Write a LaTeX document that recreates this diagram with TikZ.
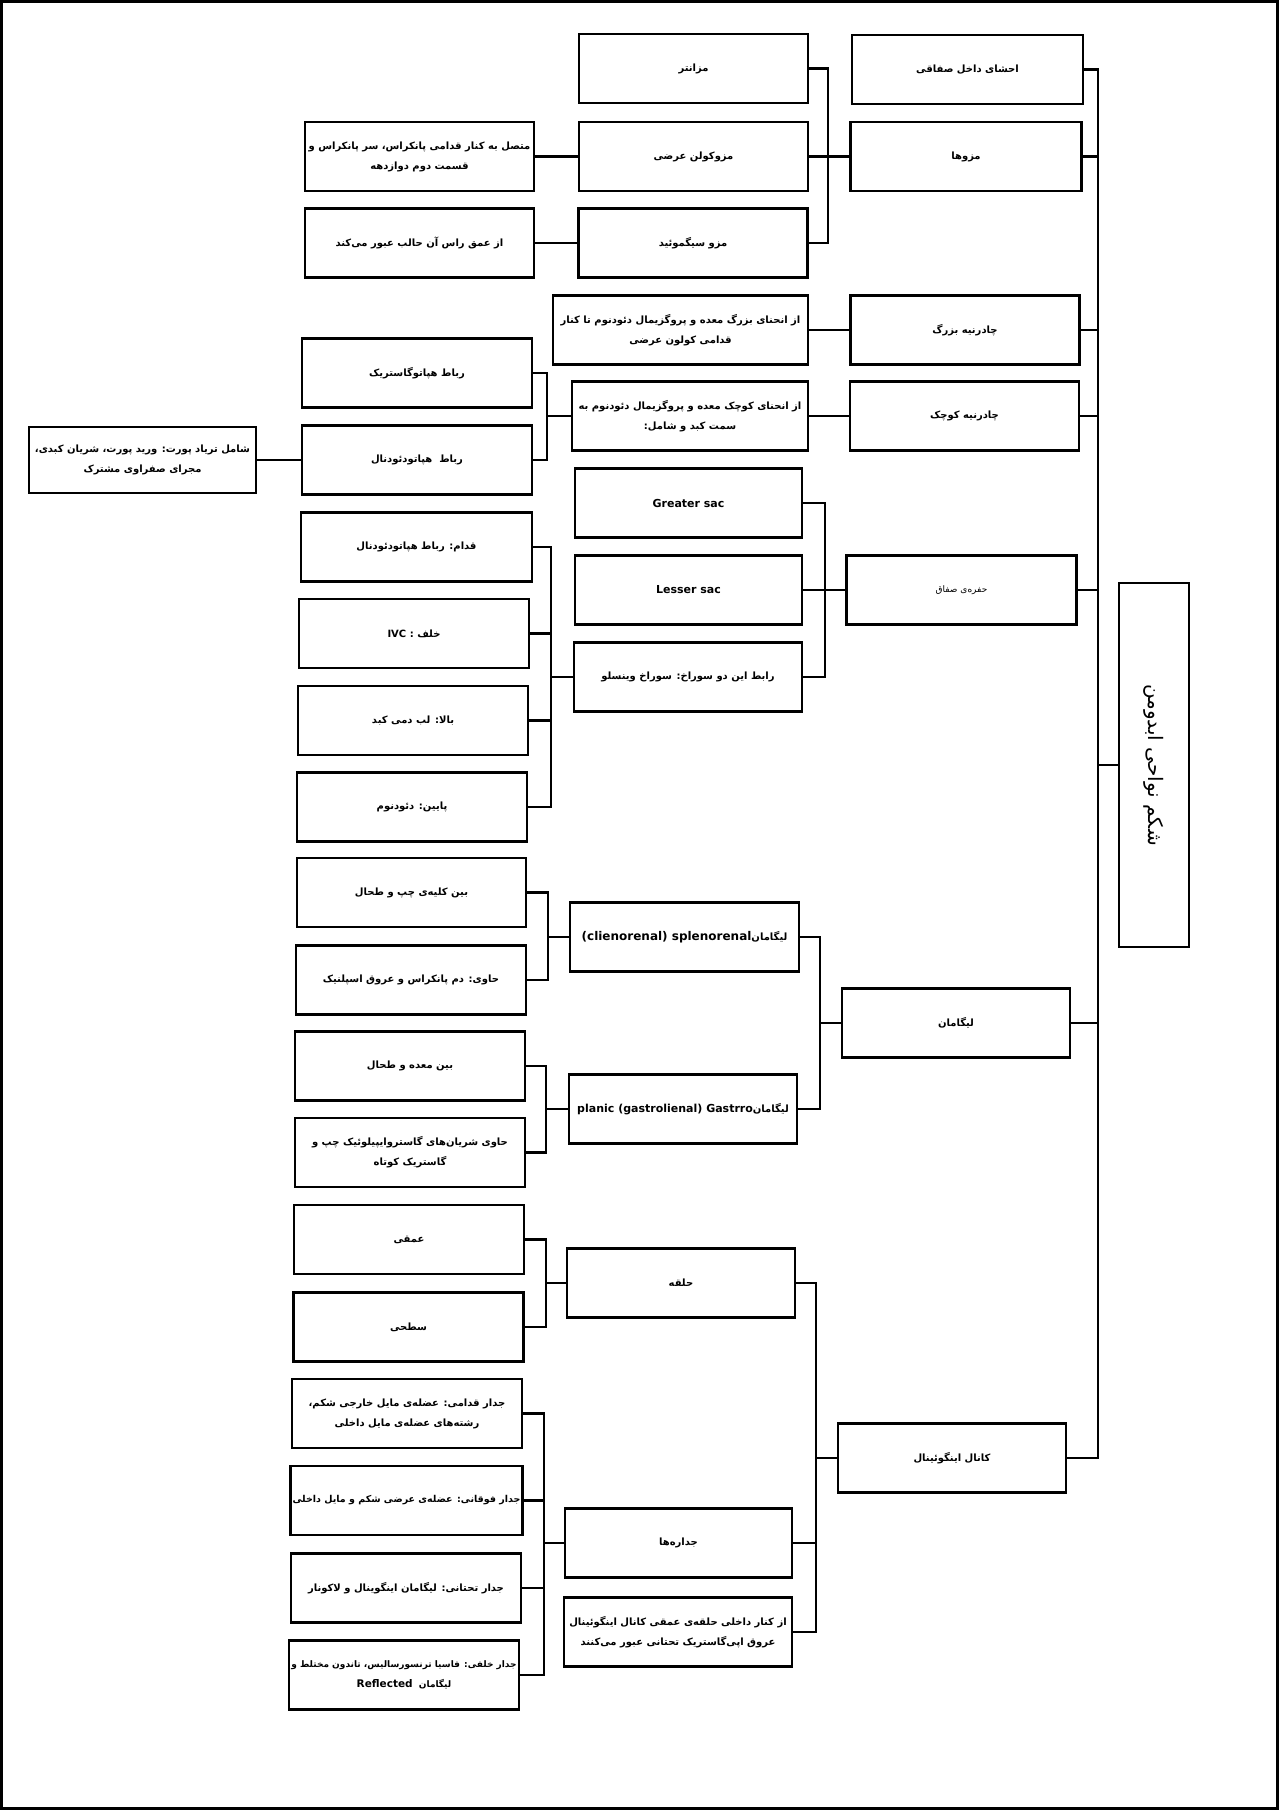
\documentclass[tikz,border=0pt]{standalone}
\usepackage{fontspec}
\setmainfont{DejaVu Sans}
\newfontfamily\arabicfont[Script=Arabic]{DejaVu Sans}
\TeXXeTstate=1
\newcommand{\fatxt}[1]{\beginR #1\endR}
\newcommand{\entxt}[1]{{\normalfont\bfseries #1}}
\tikzset{
  box/.style={draw, line width=2.6pt, minimum width=229pt, minimum height=69pt,
    inner sep=2pt, align=center, font=\arabicfont\bfseries\fontsize{10}{20}\selectfont},
  thinbox/.style={box, font=\arabicfont\fontsize{9}{18}\selectfont},
  latbox/.style={box, font=\bfseries\fontsize{11}{18}\selectfont},
  link/.style={line width=2.4pt},
}
\begin{document}
\begin{tikzpicture}[x=1pt,y=-1pt]
  \useasboundingbox (0,0) rectangle (1279,1810);
  \draw[line width=3pt] (1.5,1.5) rectangle (1277.5,1808.5);

  % root and first level
  \node[box, rotate=-90, minimum width=364pt, minimum height=70pt,
    font=\arabicfont\fontsize{20}{22}\selectfont] (root) at (1154,765) {\fatxt{شکم نواحی ابدومن}};
  \node[box, minimum width=231pt] (iha) at (967.5,69.5) {\fatxt{احشای داخل صفاقی}};
  \node[box, minimum width=231pt] (mzha) at (966,156.5) {\fatxt{مزوها}};
  \node[box] (chb) at (965,330) {\fatxt{چادرنیه بزرگ}};
  \node[box] (chk) at (964.5,416) {\fatxt{چادرنیه کوچک}};
  \node[thinbox, minimum width=230pt] (hfr) at (961.5,590) {\fatxt{حفره‌ی صفاق}};
  \node[box, minimum width=228pt] (lig) at (956,1023) {\fatxt{لیگامان}};
  \node[box, minimum width=228pt] (knl) at (952,1458) {\fatxt{کانال اینگوئینال}};

  % second level
  \node[box] (mzt) at (693.5,68.5) {\fatxt{مزانتر}};
  \node[box] (mzk) at (693.5,156.5) {\fatxt{مزوکولن عرضی}};
  \node[box] (mzs) at (693,243) {\fatxt{مزو سیگموئید}};
  \node[box, minimum width=255pt] (oml) at (680.5,330)
    {\fatxt{از انحنای بزرگ معده و پروگزیمال دئودنوم تا کنار}\\\fatxt{قدامی کولون عرضی}};
  \node[box, minimum width=236pt] (oms) at (690,416)
    {\fatxt{از انحنای کوچک معده و پروگزیمال دئودنوم به}\\\fatxt{سمت کبد و شامل:}};
  \node[latbox, minimum width=227pt] (gs) at (688.5,503) {Greater sac};
  \node[latbox, minimum width=227pt] (ls) at (688.5,590) {Lesser sac};
  \node[box, minimum width=228pt] (wns) at (688,677) {\fatxt{رابط این دو سوراخ: سوراخ وینسلو}};
  \node[box] (spl) at (684.5,937)
    {{\normalfont\bfseries\fontsize{12}{20}\selectfont (clienorenal) splenorenal}\fatxt{لیگامان}};
  \node[box, minimum width=228pt] (gst) at (683,1109)
    {{\normalfont\bfseries\fontsize{11}{20}\selectfont planic (gastrolienal) Gastrro}\fatxt{لیگامان}};
  \node[box, minimum width=228pt] (hlq) at (681,1283) {\fatxt{حلقه}};
  \node[box, minimum width=227pt] (jdr) at (678.5,1543) {\fatxt{جداره‌ها}};
  \node[box, minimum width=228pt] (kdk) at (678,1632)
    {\fatxt{از کنار داخلی حلقه‌ی عمقی کانال اینگوئینال}\\\fatxt{عروق اپی‌گاستریک تحتانی عبور می‌کنند}};

  % third level
  \node[box] (mtl) at (419.5,156.5)
    {\fatxt{متصل به کنار قدامی پانکراس، سر پانکراس و}\\\fatxt{قسمت دوم دوازدهه}};
  \node[box] (amq) at (419.5,243) {\fatxt{از عمق راس آن حالب عبور می‌کند}};
  \node[box, minimum width=230pt] (rhg) at (417,373) {\fatxt{رباط هپاتوگاستریک}};
  \node[box, minimum width=230pt] (rhd) at (417,460) {\fatxt{رباط\ \ هپاتودئودنال}};
  \node[box, minimum width=231pt] (qdm) at (416.5,547) {\fatxt{قدام: رباط هپاتودئودنال}};
  \node[box, minimum width=230pt] (khl) at (414,633.5) {\entxt{IVC} :\ \fatxt{خلف}};
  \node[box, minimum width=230pt] (bla) at (413,720.5) {\fatxt{بالا: لب دمی کبد}};
  \node[box, minimum width=230pt] (pyn) at (412,807) {\fatxt{پایین: دئودنوم}};
  \node[box] (bkc) at (411.5,892.5) {\fatxt{بین کلیه‌ی چپ و طحال}};
  \node[box, minimum width=230pt] (hdp) at (411,980) {\fatxt{حاوی: دم پانکراس و عروق اسپلنیک}};
  \node[box, minimum width=230pt] (bmt) at (410,1066) {\fatxt{بین معده و طحال}};
  \node[box, minimum width=230pt] (hsg) at (410,1152.5)
    {\fatxt{حاوی شریان‌های گاستروایپیلوئیک چپ و}\\\fatxt{گاستریک کوتاه}};
  \node[box, minimum width=230pt] (amqi) at (409,1239.5) {\fatxt{عمقی}};
  \node[box, minimum width=230pt] (sth) at (408.5,1327) {\fatxt{سطحی}};
  \node[box, minimum width=230pt] (jqd) at (407,1413.5)
    {\fatxt{جدار قدامی: عضله‌ی مایل خارجی شکم،}\\\fatxt{رشته‌های عضله‌ی مایل داخلی}};
  \node[box, minimum width=230pt, font=\arabicfont\bfseries\fontsize{9.5}{20}\selectfont] (jfq) at (406.5,1500.5)
    {\fatxt{جدار فوقانی: عضله‌ی عرضی شکم و مایل داخلی}};
  \node[box, minimum width=230pt] (jth) at (406,1588) {\fatxt{جدار تحتانی: لیگامان اینگوینال و لاکونار}};
  \node[box, minimum width=230pt, font=\arabicfont\bfseries\fontsize{9}{20}\selectfont] (jkh) at (404,1675)
    {\fatxt{جدار خلفی: فاسیا ترنسورسالیس، تاندون مختلط و}\\
     {\normalfont\bfseries\fontsize{10.5}{20}\selectfont Reflected}\ \ \fatxt{لیگامان}};

  % fourth level
  \node[box, minimum width=227pt, minimum height=66pt] (shm) at (142.5,460)
    {\fatxt{شامل تریاد پورت: ورید پورت، شریان کبدی،}\\\fatxt{مجرای صفراوی مشترک}};

  % junctions
  \coordinate (jroot) at (1098,765);
  \coordinate (jmz) at (828,156.5);
  \coordinate (jhp) at (547,416);
  \coordinate (jsac) at (825,590);
  \coordinate (jwn) at (551,677);
  \coordinate (jspl) at (548,937);
  \coordinate (jgst) at (546,1109);
  \coordinate (jlig) at (820,1023);
  \coordinate (jhlq) at (546,1283);
  \coordinate (jjdr) at (544,1543);
  \coordinate (jknl) at (816,1458);

  % spine
  \draw[link] (iha.east) -| (jroot) |- (knl.east);
  \foreach \n in {mzha,chb,chk,hfr,lig}
    \draw[link] (\n.east) -- (\n.east -| jroot);
  \draw[link] (jroot) -- (root);

  % brackets
  \draw[link] (mzt.east) -| (jmz) |- (mzs.east);
  \draw[link] (mzk) -- (mzha);
  \draw[link] (mtl) -- (mzk);
  \draw[link] (amq) -- (mzs);
  \draw[link] (oml) -- (chb);
  \draw[link] (oms) -- (chk);
  \draw[link] (rhg.east) -| (jhp) |- (rhd.east);
  \draw[link] (jhp) -- (oms);
  \draw[link] (shm) -- (rhd);
  \draw[link] (gs.east) -| (jsac) |- (wns.east);
  \draw[link] (ls) -- (hfr);
  \draw[link] (qdm.east) -| (jwn) |- (pyn.east);
  \foreach \n in {khl,bla}
    \draw[link] (\n.east) -- (\n.east -| jwn);
  \draw[link] (jwn) -- (wns);
  \draw[link] (bkc.east) -| (jspl) |- (hdp.east);
  \draw[link] (jspl) -- (spl);
  \draw[link] (bmt.east) -| (jgst) |- (hsg.east);
  \draw[link] (jgst) -- (gst);
  \draw[link] (spl.east) -| (jlig) |- (gst.east);
  \draw[link] (jlig) -- (lig);
  \draw[link] (amqi.east) -| (jhlq) |- (sth.east);
  \draw[link] (jhlq) -- (hlq);
  \draw[link] (jqd.east) -| (jjdr) |- (jkh.east);
  \foreach \n in {jfq,jth}
    \draw[link] (\n.east) -- (\n.east -| jjdr);
  \draw[link] (jjdr) -- (jdr);
  \draw[link] (hlq.east) -| (jknl) |- (kdk.east);
  \draw[link] (jdr.east) -- (jdr.east -| jknl);
  \draw[link] (jknl) -- (knl);
\end{tikzpicture}
\end{document}
